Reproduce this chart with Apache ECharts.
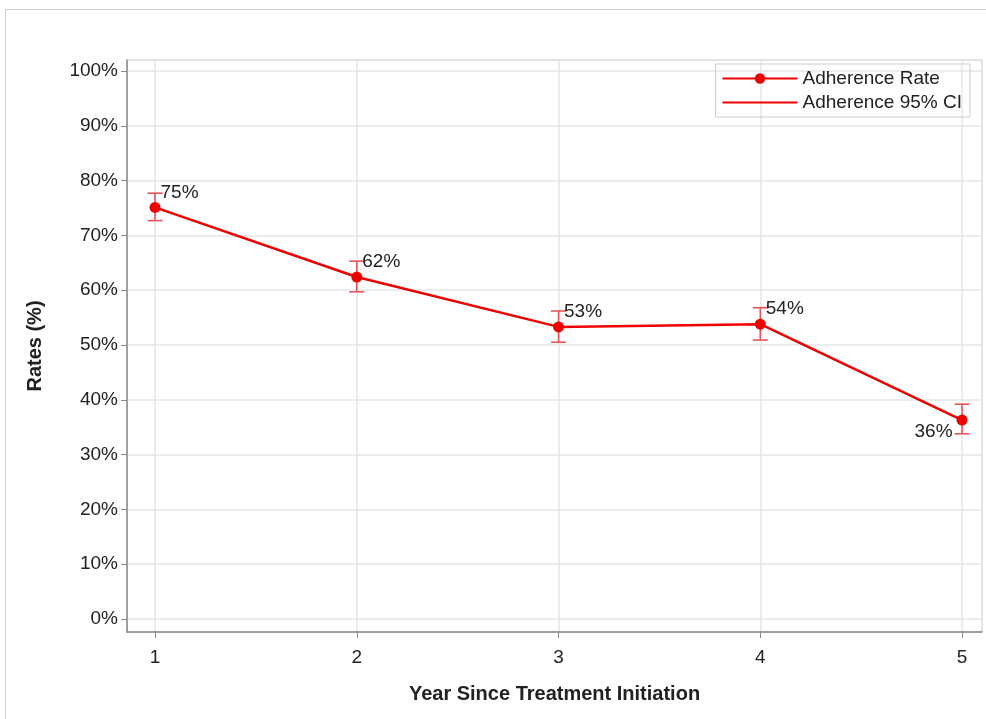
<!DOCTYPE html>
<html>
<head>
<meta charset="utf-8">
<script src="https://cdn.jsdelivr.net/npm/echarts@6/dist/echarts.min.js"></script>
<style>
  html, body { margin: 0; padding: 0; background: #fff; }
  #main { width: 986px; height: 719px; }
</style>
</head>
<body>
<div id="main"></div>
<script>
const years = [1, 2, 3, 4, 5];
const adherence = [75.1, 62.4, 53.3, 53.8, 36.3];
const ciLower = [72.7, 59.7, 50.5, 50.9, 33.8];
const ciUpper = [77.7, 65.3, 56.2, 56.8, 39.2];
const yTicks = [0, 10, 20, 30, 40, 50, 60, 70, 80, 90, 100];

const FONT = 'Liberation Sans, Arial, sans-serif';
const RED = '#ee0000';
const CI_RED = '#e8545a';

function pointLabel(i) {
  if (i === years.length - 1) {
    return { position: [-4, 8], align: 'right' };
  }
  return { position: [11, -19] };
}

const chart = echarts.init(document.getElementById('main'));

chart.setOption({
  backgroundColor: '#fff',
  animation: false,
  graphic: [{
    type: 'rect',
    left: 3, top: 7,
    shape: { width: 1000, height: 720 },
    style: { fill: 'none', stroke: '#cfcfcf', lineWidth: 1 }
  }],
  grid: {
    left: 127, right: 4, top: 60, bottom: 87,
    show: true, borderColor: '#c8c8c8', borderWidth: 1
  },
  legend: {
    orient: 'vertical',
    right: 16, top: 64,
    align: 'left',
    itemWidth: 75, itemHeight: 13, itemGap: 5,
    padding: [5, 8, 5, 6],
    borderColor: '#cccccc', borderWidth: 1,
    textStyle: { fontFamily: FONT, fontSize: 19, color: '#222' },
    data: [
      { name: 'Adherence Rate' },
      { name: 'Adherence 95% CI', itemStyle: { opacity: 0 } }
    ]
  },
  xAxis: {
    type: 'value',
    min: 0.861, max: 5.099,
    name: 'Year Since Treatment Initiation',
    nameLocation: 'middle', nameGap: 52,
    nameTextStyle: { fontFamily: FONT, fontSize: 20, fontWeight: 'bold', color: '#222' },
    axisLine: { show: true, onZero: false, lineStyle: { color: '#888', width: 1.5 } },
    axisTick: { show: true, length: 6, customValues: years, lineStyle: { color: '#888' } },
    axisLabel: {
      customValues: years, margin: 16,
      fontFamily: FONT, fontSize: 19, color: '#222'
    },
    splitLine: { show: true, lineStyle: { color: '#e6e6e6', width: 1.5 } }
  },
  yAxis: {
    type: 'value',
    min: -2.37, max: 102.0,
    name: 'Rates (%)',
    nameLocation: 'middle', nameGap: 82,
    nameTextStyle: { fontFamily: FONT, fontSize: 20, fontWeight: 'bold', color: '#222' },
    axisLine: { show: true, onZero: false, lineStyle: { color: '#888', width: 1.5 } },
    axisTick: { show: true, length: 6, customValues: yTicks, lineStyle: { color: '#888' } },
    axisLabel: {
      customValues: yTicks, margin: 9,
      fontFamily: FONT, fontSize: 19, color: '#222',
      formatter: v => v + '%'
    },
    splitLine: { show: true, lineStyle: { color: '#e6e6e6', width: 1.5 } }
  },
  series: [
    {
      type: 'custom',
      name: 'ci-bars',
      data: years.map((y, i) => [y, ciLower[i], ciUpper[i]]),
      z: 3,
      renderItem: function (params, api) {
        const lo = api.coord([api.value(0), api.value(1)]);
        const hi = api.coord([api.value(0), api.value(2)]);
        const half = 7.5;
        const style = { stroke: CI_RED, lineWidth: 1.6 };
        return {
          type: 'group',
          children: [
            { type: 'line', shape: { x1: hi[0], y1: hi[1], x2: lo[0], y2: lo[1] }, style },
            { type: 'line', shape: { x1: hi[0] - half, y1: hi[1], x2: hi[0] + half, y2: hi[1] }, style },
            { type: 'line', shape: { x1: lo[0] - half, y1: lo[1], x2: lo[0] + half, y2: lo[1] }, style }
          ]
        };
      }
    },
    {
      type: 'line',
      name: 'Adherence Rate',
      z: 4,
      symbol: 'circle',
      symbolSize: 11,
      itemStyle: { color: RED },
      lineStyle: { color: RED, width: 2.5 },
      data: years.map((y, i) => ({
        value: [y, adherence[i]],
        label: pointLabel(i)
      })),
      label: {
        show: true,
        fontFamily: FONT, fontSize: 19, color: '#222',
        formatter: p => Math.round(p.value[1]) + '%'
      }
    },
    {
      // legend entry for the confidence bars
      type: 'line',
      name: 'Adherence 95% CI',
      symbol: 'none',
      itemStyle: { color: RED },
      lineStyle: { color: RED, width: 1.2 },
      data: []
    }
  ]
});
</script>
</body>
</html>
